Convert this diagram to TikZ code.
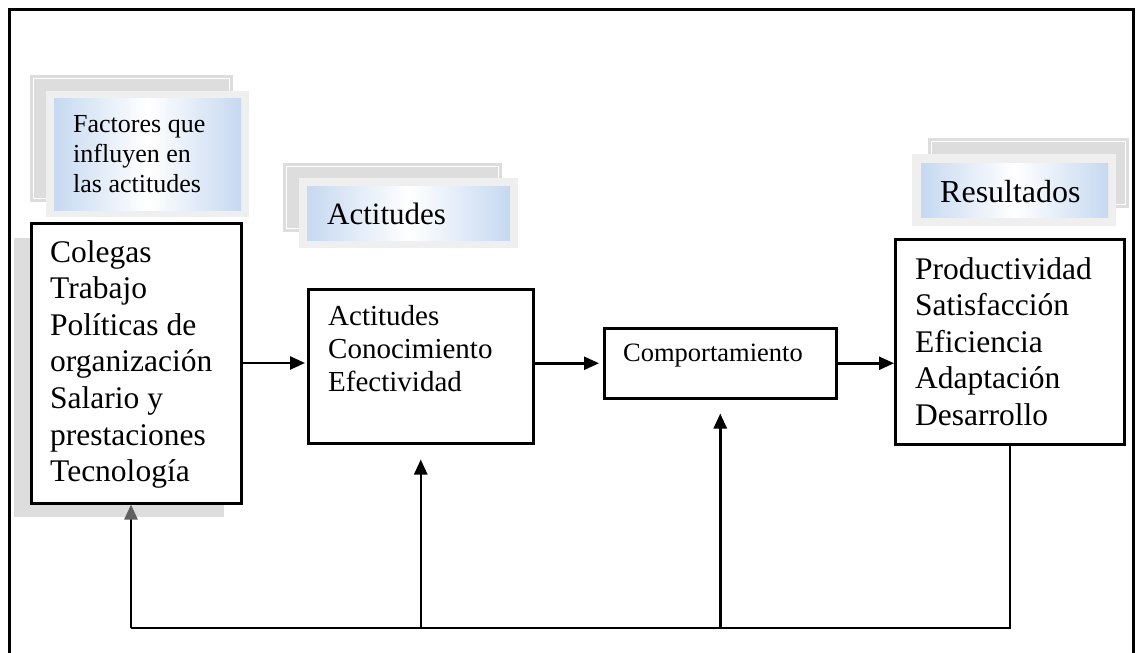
\documentclass[tikz,border=0pt]{standalone}
\usepackage{fontspec}
\setmainfont{Liberation Serif}
\usetikzlibrary{arrows.meta}
\definecolor{backgray}{RGB}{221,221,221}
\definecolor{framegray}{RGB}{239,239,239}
\definecolor{headblue}{RGB}{198,217,241}
\definecolor{arrgray}{RGB}{96,96,96}
\begin{document}
\begin{tikzpicture}[x=1pt,y=-1pt,
  line/.style={line width=2.5pt},
  arr/.style={line width=2.5pt,-{Triangle[length=15pt,width=13pt]}},
  grayarr/.style={line width=2.5pt,-{Triangle[length=15pt,width=13pt,color=arrgray]}},
  box/.style={draw,fill=white,line width=2.5pt,inner sep=0pt,anchor=north west},
  txt/.style={anchor=base west,inner sep=0pt},
  backcard/.style={fill=backgray},
  backline/.style={draw=white,line width=1pt},
  frontcard/.style={fill=framegray},
  grad/.style={left color=headblue,right color=headblue,middle color=white}]
\useasboundingbox (0,0) rectangle (1136,653);
% outer frame (open at the bottom)
\draw[line width=3pt] (9,653) -- (9,9) -- (1133,9) -- (1133,653);

% header 1
\fill[backcard] (30,75) rectangle (233,202);
\draw[backline] (33.5,78.5) rectangle (229.5,198.5);
\fill[frontcard] (46,91) rectangle (249,217);
\shade[grad] (54,98) rectangle (241,210);
\node[txt] (h1) at (73,132) {\fontsize{26}{30}\selectfont\begin{tabular}[t]{@{}l@{}}Factores que\\influyen en\\las actitudes\end{tabular}};

% header 2
\fill[backcard] (283,163) rectangle (502,232);
\draw[backline] (286.5,166.5) rectangle (498.5,228.5);
\fill[frontcard] (299,178) rectangle (518,248);
\shade[grad] (307,186) rectangle (510,240);
\node[txt] (h2) at (327,224) {\fontsize{31}{36}\selectfont Actitudes};

% header 3
\fill[backcard] (928,138) rectangle (1129,208);
\draw[backline] (931.5,141.5) rectangle (1125.5,204.5);
\fill[frontcard] (912,154) rectangle (1116,226);
\shade[grad] (921,163) rectangle (1108,217);
\node[txt] (h3) at (940,202) {\fontsize{32}{36}\selectfont Resultados};

% main boxes
\fill[backgray] (14,238) rectangle (224,517);
\node[box,minimum width=210,minimum height=280] (fac) at (30,222) {};
\node[txt] (factxt) at (50,262) {\fontsize{31.5}{36.6}\selectfont\begin{tabular}[t]{@{}l@{}}Colegas\\Trabajo\\Políticas de\\organización\\Salario y\\prestaciones\\Tecnología\end{tabular}};

\node[box,minimum width=225,minimum height=154] (act) at (307,288) {};
\node[txt] (acttxt) at (328,325.5) {\fontsize{29}{33}\selectfont\begin{tabular}[t]{@{}l@{}}Actitudes\\Conocimiento\\Efectividad\end{tabular}};

\node[box,minimum width=232,minimum height=70] (comp) at (603,327) {};
\node[txt] (comptxt) at (623,361) {\fontsize{26.5}{30}\selectfont Comportamiento};

\node[box,minimum width=229,minimum height=205] (res) at (894,238) {};
\node[txt] (restxt) at (915,279) {\fontsize{31.5}{36.5}\selectfont\begin{tabular}[t]{@{}l@{}}Productividad\\Satisfacción\\Eficiencia\\Adaptación\\Desarrollo\end{tabular}};

% forward arrows
\draw[arr,shorten >=2pt] (fac.east |- 0,363) -- (act.west |- 0,363);
\draw[arr,shorten >=4pt] (comp.west -| act.east) -- (comp.west);
\draw[arr] (comp.east) -- (comp.east -| res.west);

% feedback loop
\coordinate (fbL) at (131,628);
\coordinate (fbR) at (res.south |- fbL);
\coordinate (fbA) at (act.south |- fbL);
\coordinate (fbC) at (comp.south |- fbL);
\draw[line] (res.south) -- (fbR) -- (fbL);
\draw[grayarr] (fbL) -- (fbL |- fac.south);
\draw[arr,shorten >=15pt] (fbA) -- (act.south);
\draw[arr,shorten >=14pt] (fbC) -- (comp.south);
\end{tikzpicture}
\end{document}
